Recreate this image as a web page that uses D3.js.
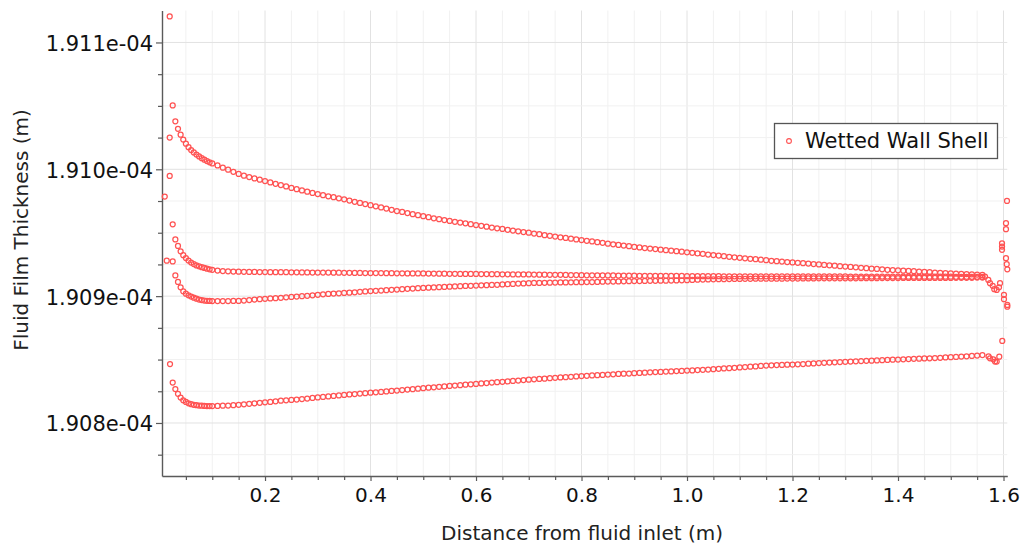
<!DOCTYPE html>
<html>
<head>
<meta charset="utf-8">
<script src="https://cdn.jsdelivr.net/npm/d3@7"></script>
<style>
html,body{margin:0;padding:0;background:#fff;}
svg{display:block;font-family:"DejaVu Sans",sans-serif;}
</style>
</head>
<body>
<div class="visHolder"></div>
<script>
// distance from fluid inlet (m), shared by the four rows of cells
const dist=[0.025,0.03,0.035,0.04,0.045,0.05,0.055,0.06,0.065,0.07,0.075,0.08,0.085,0.09,0.095,0.10,
0.11,0.12,0.13,0.14,0.15,0.16,0.17,0.18,0.19,0.20,
0.21,0.22,0.23,0.24,0.25,0.26,0.27,0.28,0.29,0.30,
0.31,0.32,0.33,0.34,0.35,0.36,0.37,0.38,0.39,0.40,
0.41,0.42,0.43,0.44,0.45,0.46,0.47,0.48,0.49,0.50,
0.51,0.52,0.53,0.54,0.55,0.56,0.57,0.58,0.59,0.60,
0.61,0.62,0.63,0.64,0.65,0.66,0.67,0.68,0.69,0.70,
0.71,0.72,0.73,0.74,0.75,0.76,0.77,0.78,0.79,0.80,
0.81,0.82,0.83,0.84,0.85,0.86,0.87,0.88,0.89,0.90,
0.91,0.92,0.93,0.94,0.95,0.96,0.97,0.98,0.99,1.00,
1.01,1.02,1.03,1.04,1.05,1.06,1.07,1.08,1.09,1.10,
1.11,1.12,1.13,1.14,1.15,1.16,1.17,1.18,1.19,1.20,
1.21,1.22,1.23,1.24,1.25,1.26,1.27,1.28,1.29,1.30,
1.31,1.32,1.33,1.34,1.35,1.36,1.37,1.38,1.39,1.40,
1.41,1.42,1.43,1.44,1.45,1.46,1.47,1.48,1.49,1.50,
1.51,1.52,1.53,1.54,1.55,1.56];

// film thickness, in units of 1e-4 m
const rowA=[1.910504,1.910378,1.910319,1.910273,1.910234,1.910202,1.910174,1.910152,1.910133,1.910116,1.910101,1.910088,1.910076,1.910065,1.910055,1.910046,
1.910030,1.910013,1.909997,1.909980,1.909963,1.909950,1.909939,1.909928,1.909918,1.909907,
1.909896,1.909886,1.909876,1.909865,1.909853,1.909843,1.909833,1.909824,1.909814,1.909805,
1.909796,1.909787,1.909780,1.909771,1.909763,1.909754,1.909744,1.909735,1.909726,1.909717,
1.909708,1.909699,1.909690,1.909681,1.909671,1.909664,1.909655,1.909646,1.909638,1.909630,
1.909622,1.909614,1.909607,1.909600,1.909593,1.909586,1.909580,1.909574,1.909567,1.909560,
1.909554,1.909548,1.909541,1.909535,1.909530,1.909523,1.909517,1.909511,1.909505,1.909500,
1.909493,1.909488,1.909481,1.909476,1.909470,1.909464,1.909459,1.909453,1.909447,1.909442,
1.909436,1.909431,1.909425,1.909420,1.909414,1.909409,1.909404,1.909399,1.909394,1.909388,
1.909384,1.909379,1.909375,1.909371,1.909366,1.909362,1.909358,1.909354,1.909350,1.909346,
1.909342,1.909337,1.909333,1.909328,1.909324,1.909320,1.909315,1.909310,1.909306,1.909302,
1.909298,1.909294,1.909291,1.909287,1.909283,1.909279,1.909276,1.909273,1.909269,1.909266,
1.909263,1.909260,1.909257,1.909253,1.909250,1.909246,1.909243,1.909240,1.909236,1.909233,
1.909230,1.909227,1.909223,1.909220,1.909216,1.909214,1.909212,1.909208,1.909206,1.909204,
1.909201,1.909199,1.909197,1.909194,1.909192,1.909190,1.909186,1.909184,1.909182,1.909180,
1.909178,1.909176,1.909174,1.909172,1.909170,1.909167];

const rowB=[1.909566,1.909447,1.909396,1.909353,1.909323,1.909300,1.909281,1.909265,1.909253,1.909242,1.909235,1.909228,1.909222,1.909216,1.909212,1.909208,
1.909202,1.909198,1.909196,1.909194,1.909193,1.909192,1.909191,1.909191,1.909190,1.909190,
1.909189,1.909189,1.909189,1.909189,1.909188,1.909188,1.909187,1.909187,1.909186,1.909186,
1.909186,1.909186,1.909185,1.909185,1.909184,1.909184,1.909183,1.909183,1.909182,1.909182,
1.909182,1.909182,1.909181,1.909181,1.909180,1.909180,1.909179,1.909179,1.909179,1.909179,
1.909178,1.909178,1.909177,1.909177,1.909176,1.909176,1.909175,1.909175,1.909175,1.909175,
1.909174,1.909174,1.909173,1.909173,1.909172,1.909172,1.909171,1.909171,1.909171,1.909171,
1.909170,1.909169,1.909169,1.909168,1.909168,1.909168,1.909167,1.909166,1.909166,1.909165,
1.909164,1.909164,1.909164,1.909164,1.909163,1.909163,1.909162,1.909162,1.909161,1.909161,
1.909160,1.909160,1.909160,1.909160,1.909160,1.909160,1.909159,1.909159,1.909159,1.909158,
1.909158,1.909158,1.909157,1.909157,1.909157,1.909157,1.909156,1.909156,1.909156,1.909156,
1.909156,1.909156,1.909156,1.909156,1.909156,1.909156,1.909156,1.909156,1.909156,1.909156,
1.909155,1.909155,1.909155,1.909155,1.909155,1.909155,1.909155,1.909155,1.909155,1.909155,
1.909154,1.909154,1.909154,1.909154,1.909154,1.909154,1.909154,1.909154,1.909154,1.909154,
1.909153,1.909153,1.909153,1.909153,1.909153,1.909153,1.909153,1.909153,1.909153,1.909153,
1.909152,1.909152,1.909152,1.909152,1.909152,1.909152];

const rowC=[1.909274,1.909163,1.909112,1.909070,1.909038,1.909019,1.909007,1.908997,1.908988,1.908980,1.908973,1.908969,1.908965,1.908963,1.908962,1.908961,
1.908961,1.908961,1.908961,1.908962,1.908962,1.908965,1.908969,1.908973,1.908976,1.908979,
1.908982,1.908984,1.908987,1.908991,1.908994,1.908997,1.909000,1.909003,1.909007,1.909010,
1.909014,1.909017,1.909020,1.909022,1.909025,1.909027,1.909030,1.909034,1.909037,1.909040,
1.909042,1.909044,1.909047,1.909050,1.909052,1.909055,1.909058,1.909060,1.909063,1.909065,
1.909067,1.909069,1.909071,1.909073,1.909075,1.909077,1.909078,1.909080,1.909081,1.909083,
1.909085,1.909086,1.909088,1.909089,1.909092,1.909094,1.909096,1.909099,1.909100,1.909102,
1.909104,1.909104,1.909105,1.909106,1.909107,1.909108,1.909108,1.909109,1.909110,1.909110,
1.909111,1.909111,1.909112,1.909114,1.909115,1.909115,1.909116,1.909117,1.909118,1.909119,
1.909119,1.909120,1.909121,1.909121,1.909122,1.909122,1.909123,1.909124,1.909125,1.909126,
1.909128,1.909130,1.909131,1.909132,1.909133,1.909134,1.909134,1.909135,1.909136,1.909136,
1.909137,1.909137,1.909138,1.909138,1.909138,1.909138,1.909138,1.909138,1.909139,1.909139,
1.909139,1.909140,1.909140,1.909140,1.909141,1.909141,1.909141,1.909141,1.909141,1.909141,
1.909141,1.909141,1.909142,1.909142,1.909142,1.909142,1.909143,1.909143,1.909143,1.909143,
1.909144,1.909144,1.909144,1.909144,1.909144,1.909144,1.909144,1.909144,1.909144,1.909144,
1.909145,1.909145,1.909145,1.909145,1.909146,1.909146];

const rowD=[1.908319,1.908267,1.908230,1.908200,1.908179,1.908166,1.908155,1.908148,1.908143,1.908140,1.908137,1.908136,1.908134,1.908133,1.908133,1.908133,
1.908134,1.908136,1.908137,1.908140,1.908143,1.908147,1.908151,1.908155,1.908159,1.908163,
1.908166,1.908171,1.908176,1.908179,1.908182,1.908185,1.908189,1.908193,1.908197,1.908201,
1.908205,1.908209,1.908213,1.908217,1.908221,1.908225,1.908228,1.908232,1.908235,1.908239,
1.908242,1.908245,1.908249,1.908253,1.908256,1.908260,1.908263,1.908266,1.908270,1.908274,
1.908278,1.908281,1.908285,1.908288,1.908292,1.908295,1.908298,1.908302,1.908305,1.908308,
1.908312,1.908315,1.908319,1.908322,1.908325,1.908328,1.908331,1.908334,1.908338,1.908341,
1.908344,1.908347,1.908349,1.908353,1.908356,1.908359,1.908361,1.908364,1.908367,1.908370,
1.908372,1.908375,1.908377,1.908379,1.908382,1.908384,1.908387,1.908389,1.908390,1.908393,
1.908395,1.908397,1.908399,1.908401,1.908402,1.908405,1.908406,1.908409,1.908410,1.908413,
1.908414,1.908417,1.908419,1.908421,1.908424,1.908427,1.908430,1.908432,1.908435,1.908438,
1.908441,1.908444,1.908446,1.908450,1.908453,1.908455,1.908457,1.908458,1.908460,1.908461,
1.908463,1.908465,1.908467,1.908469,1.908472,1.908474,1.908476,1.908478,1.908480,1.908482,
1.908484,1.908486,1.908488,1.908490,1.908491,1.908493,1.908495,1.908497,1.908499,1.908500,
1.908502,1.908504,1.908506,1.908507,1.908509,1.908510,1.908512,1.908514,1.908517,1.908519,
1.908521,1.908524,1.908526,1.908529,1.908532,1.908535];

// stray cells at the inlet and outlet ends
const edgeDist=[0.0193,0.0193,0.0193,0.0099,0.0137,0.0199,
1.5649,1.5712,1.5744,1.5795,1.5825,1.5871,1.5915,1.5934,
1.5716,1.5744,1.5807,1.5839,1.5871,1.5920,
1.6066,1.6047,1.6047,1.5972,1.5972,1.5972,1.6047,1.6061,1.6072,1.6009,1.6009,1.6072,1.6072,1.5977];
const edgeThick=[1.911205,1.910250,1.909948,1.909785,1.909280,1.908465,
1.909154,1.909128,1.909102,1.909081,1.909055,1.909049,1.909070,1.909102,
1.908525,1.908510,1.908502,1.908484,1.908484,1.908523,
1.909751,1.909575,1.909528,1.909417,1.909391,1.909365,1.909299,1.909252,1.909212,1.909010,1.908976,1.908931,1.908917,1.908647];

const xTicks=[0.2,0.4,0.6,0.8,1.0,1.2,1.4,1.6];
const yTicks=[1.908,1.909,1.910,1.911];
const seriesName="Wetted Wall Shell";

const w=1024,h=552,markColor="#ff5252";

const svg=d3.select(".visHolder")
.append("svg")
.attr("width",w)
.attr("height",h);

const x=d3.scaleLinear().domain([0.0047,1.6072]).range([162,1007.3]);
const y=d3.scaleLinear().domain([1.907582,1.911252]).range([476,10.5]);

const xMinor=d3.range(0.05,1.601,0.05);
const yMinor=d3.range(1.90775,1.91124,0.00025);
const isMajorX=v=>Math.abs(v*5-Math.round(v*5))<1e-6;
const isMajorY=v=>Math.abs(v*1000-Math.round(v*1000))<1e-6;

// grid
const grid=svg.append("g");
grid.selectAll("line.gx")
.data(xMinor)
.enter()
.append("line")
.attr("x1",d=>x(d)).attr("x2",d=>x(d))
.attr("y1",10.5).attr("y2",476)
.attr("stroke",d=>isMajorX(d)?"#e2e2e2":"#f1f1f1");
grid.selectAll("line.gy")
.data(yMinor)
.enter()
.append("line")
.attr("y1",d=>y(d)).attr("y2",d=>y(d))
.attr("x1",162).attr("x2",1007.3)
.attr("stroke",d=>isMajorY(d)?"#e2e2e2":"#f1f1f1");

// axes
const xAxis=svg.append("g")
.attr("transform","translate(0,476)")
.call(d3.axisBottom(x).tickValues(xTicks).tickSize(5).tickSizeOuter(0).tickPadding(6.5).tickFormat(d3.format(".1f")));
svg.append("g")
.attr("transform","translate(0,476)")
.call(d3.axisBottom(x).tickValues(xMinor.filter(d=>!isMajorX(d))).tickSize(4).tickFormat(""))
.call(g=>g.select(".domain").remove());

const yAxis=svg.append("g")
.attr("transform","translate(162,0)")
.call(d3.axisLeft(y).tickValues(yTicks).tickSize(6).tickSizeOuter(0).tickPadding(3).tickFormat(d=>d3.format(".3f")(d)+"e-04"));
svg.append("g")
.attr("transform","translate(162,0)")
.call(d3.axisLeft(y).tickValues(yMinor.filter(d=>!isMajorY(d))).tickSize(4).tickFormat(""))
.call(g=>g.select(".domain").remove());

svg.selectAll(".domain").attr("stroke","#5a5a5a").attr("stroke-width",1.4);
svg.selectAll(".tick line").attr("stroke","#5a5a5a").attr("stroke-width",1.2);
xAxis.selectAll("text").attr("font-size",20).attr("fill","#111").attr("font-family","DejaVu Sans");
yAxis.selectAll("text").attr("font-size",21).attr("fill","#111").attr("dy","0.38em").attr("font-family","DejaVu Sans");

// axis titles
svg.append("text")
.attr("x",582)
.attr("y",540)
.attr("text-anchor","middle")
.attr("font-size",20)
.attr("fill","#222")
.text("Distance from fluid inlet (m)");
svg.append("text")
.attr("transform","translate(28,230) rotate(-90)")
.attr("text-anchor","middle")
.attr("font-size",20)
.attr("fill","#222")
.text("Fluid Film Thickness (m)");

// points
const points=[];
[rowA,rowB,rowC,rowD].forEach(row=>{
  row.forEach((v,i)=>points.push([dist[i],v]));
});
edgeDist.forEach((d,i)=>points.push([d,edgeThick[i]]));

svg.append("g")
.selectAll("circle")
.data(points)
.enter()
.append("circle")
.attr("cx",d=>x(d[0]))
.attr("cy",d=>y(d[1]))
.attr("r",2.5)
.attr("fill","none")
.attr("stroke",markColor)
.attr("stroke-width",1.25);

// legend
const legend=svg.append("g");
legend.append("rect")
.attr("x",774.5).attr("y",123.5)
.attr("width",223).attr("height",35)
.attr("fill","#fff")
.attr("stroke","#555")
.attr("stroke-width",1.3);
legend.append("circle")
.attr("cx",789).attr("cy",141)
.attr("r",2.4)
.attr("fill","none")
.attr("stroke",markColor)
.attr("stroke-width",1.1);
legend.append("text")
.attr("x",805).attr("y",147.5)
.attr("font-size",21)
.attr("fill","#111")
.text(seriesName);
</script>
</body>
</html>
